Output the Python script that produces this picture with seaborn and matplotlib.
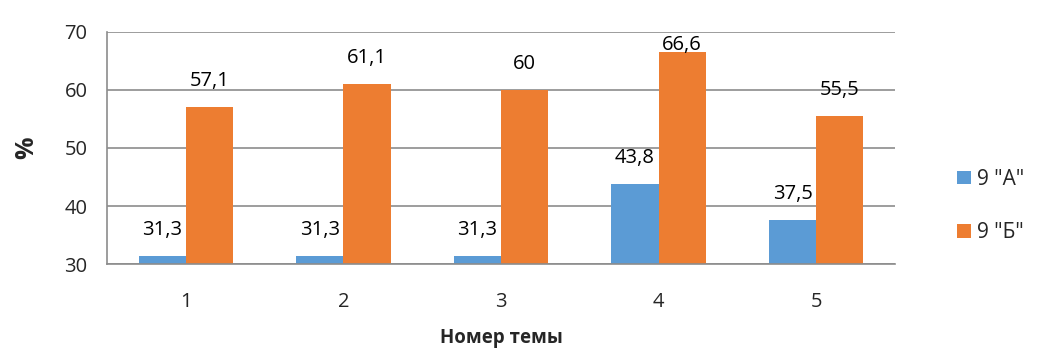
import matplotlib
matplotlib.use("Agg")
import matplotlib.pyplot as plt
import seaborn as sns
import pandas as pd

topics = ["1", "2", "3", "4", "5"]
class_a = [31.3, 31.3, 31.3, 43.8, 37.5]
class_b = [57.1, 61.1, 60, 66.6, 55.5]
series_names = ['9 "А"', '9 "Б"']
colors = ["#5B9BD5", "#ED7D31"]
y_ticks = [30, 40, 50, 60, 70]

df = pd.DataFrame({
    "topic": topics * 2,
    "value": class_a + class_b,
    "group": [series_names[0]] * len(topics) + [series_names[1]] * len(topics),
})

sns.set_style("white")
plt.rcParams["font.family"] = ["Open Sans", "DejaVu Sans"]

fig = plt.figure(figsize=(10.37, 3.49), dpi=100)
ax = fig.add_axes([107 / 1037, 1 - 264 / 349, (895 - 107) / 1037, (264 - 32) / 349])

sns.barplot(data=df, x="topic", y="value", hue="group", palette=colors,
            width=0.6, ax=ax, legend=True, saturation=1, linewidth=0)

ax.set_ylim(30, 70)
ax.set_yticks(y_ticks)
ax.yaxis.grid(True, color="#8c8c8c", linewidth=1.2)
ax.set_axisbelow(True)
for side in ["top", "right"]:
    ax.spines[side].set_visible(False)
for side in ["left", "bottom"]:
    ax.spines[side].set_color("#8c8c8c")
    ax.spines[side].set_linewidth(1.2)
ax.tick_params(axis="y", length=8, color="#8c8c8c", width=1.2, labelsize=14.5, pad=6)
ax.tick_params(axis="x", length=0, labelsize=14.5, pad=20)

def fmt(v):
    return (f"{v:g}").replace(".", ",")

# value labels sit above each bar, but are kept inside the plotting area
label_gap = 4.5
label_ceiling = 67.7
for cont in ax.containers:
    for bar in cont:
        h = bar.get_height()
        ax.text(bar.get_x() + bar.get_width() / 2, min(h + label_gap, label_ceiling),
                fmt(h), ha="center", va="center", fontsize=14.5, color="black")

ax.set_xlabel("Номер темы", fontsize=13.5, fontweight="bold", labelpad=12)
ax.set_ylabel("%", fontsize=18, fontweight="bold", labelpad=18)

handles, labels = ax.get_legend_handles_labels()
ax.legend(handles, labels, loc="center left", bbox_to_anchor=(1.055, 0.25),
          frameon=False, fontsize=15, handlelength=0.65, handleheight=0.65,
          handletextpad=0.3, labelspacing=1.55)

fig.savefig("out.png", dpi=100)
